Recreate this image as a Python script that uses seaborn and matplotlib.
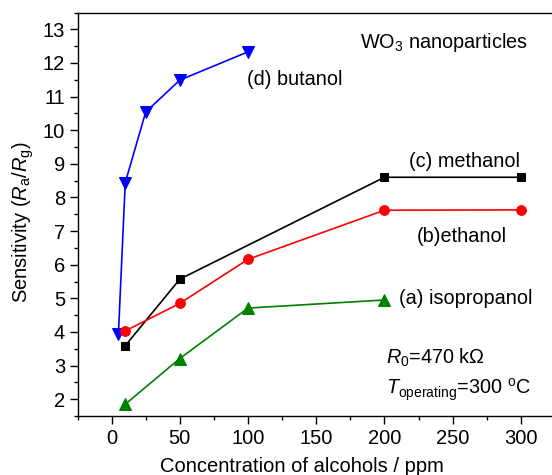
import matplotlib
matplotlib.use("Agg")
import matplotlib.pyplot as plt
from matplotlib.ticker import MultipleLocator
import seaborn as sns
import pandas as pd

# Sensitivity of WO3 nanoparticles towards four alcohols
butanol_ppm = [5, 10, 25, 50, 100]
butanol_sens = [3.95, 8.44, 10.54, 11.49, 12.33]

methanol_ppm = [10, 50, 200, 300]
methanol_sens = [3.59, 5.57, 8.6, 8.6]

ethanol_ppm = [10, 50, 100, 200, 300]
ethanol_sens = [4.03, 4.85, 6.16, 7.62, 7.63]

isopropanol_ppm = [10, 50, 100, 200]
isopropanol_sens = [1.85, 3.21, 4.71, 4.95]

x_ticks = [0, 50, 100, 150, 200, 250, 300]
y_ticks = [2, 3, 4, 5, 6, 7, 8, 9, 10, 11, 12, 13]

sns.set_style("ticks")
plt.rcParams["font.family"] = ["Liberation Sans", "DejaVu Sans"]
plt.rcParams["mathtext.fontset"] = "custom"
plt.rcParams["mathtext.rm"] = "Liberation Sans"
plt.rcParams["mathtext.it"] = "Liberation Sans:italic"
plt.rcParams["mathtext.bf"] = "Liberation Sans:bold"
plt.rcParams["text.color"] = "black"
plt.rcParams["axes.labelcolor"] = "black"

fig = plt.figure(figsize=(5.52, 4.75), dpi=100)
W, H = 552, 475
left, right, top, bottom = 77.5, 555, 12.5, 416
ax = fig.add_axes([left / W, 1 - bottom / H, (right - left) / W, (bottom - top) / H])

series = [
    (butanol_ppm, butanol_sens, "blue", "v", 8.0),
    (methanol_ppm, methanol_sens, "black", "s", 6.0),
    (ethanol_ppm, ethanol_sens, "red", "o", 7.0),
    (isopropanol_ppm, isopropanol_sens, "green", "^", 8.5),
]
for xs, ys, color, marker, ms in series:
    df = pd.DataFrame({"ppm": xs, "sens": ys})
    sns.lineplot(data=df, x="ppm", y="sens", ax=ax, color=color, marker=marker,
                 markersize=ms, markeredgecolor=color, linewidth=1.2,
                 sort=False, clip_on=False)

ax.set_xlim(-25, 325)
ax.set_ylim(1.5, 13.5)
ax.set_xticks(x_ticks)
ax.set_yticks(y_ticks)
ax.xaxis.set_minor_locator(MultipleLocator(25))
ax.yaxis.set_minor_locator(MultipleLocator(0.5))
ax.tick_params(which="major", direction="out", length=6, width=1, labelsize=14.5,
               colors="black", top=False, right=False, pad=3)
ax.tick_params(which="minor", direction="out", length=3, width=1,
               colors="black", top=False, right=False)
for side in ["left", "bottom", "top"]:
    ax.spines[side].set_color("black")
    ax.spines[side].set_linewidth(1)
ax.spines["right"].set_visible(False)

ax.set_xlabel("Concentration of alcohols / ppm", fontsize=14.5, color="black")
ax.set_ylabel(r"Sensitivity ($\mathit{R}_{\mathrm{a}}$/$\mathit{R}_{\mathrm{g}}$)",
              fontsize=14.5, color="black")
ax.xaxis.set_label_coords(0.47, -0.102)
ax.yaxis.set_label_coords(-0.087, 0.48)

txt = dict(fontsize=14.3, color="black", va="center", ha="left")
ax.text(182, 12.6, r"WO$_3$ nanoparticles", **txt)
ax.text(99, 11.5, "(d) butanol", **txt)
ax.text(218, 9.06, "(c) methanol", **txt)
ax.text(224, 6.85, "(b)ethanol", **txt)
ax.text(211, 4.98, "(a) isopropanol", **txt)
ax.text(201, 3.23, r"$\mathit{R}_{\mathrm{0}}$=470 k$\Omega$", **txt)
ax.text(201, 2.28, r"$\mathit{T}_{\mathrm{operating}}$=300 $^{\mathrm{o}}$C", **txt)

fig.savefig("out.png", dpi=100)
